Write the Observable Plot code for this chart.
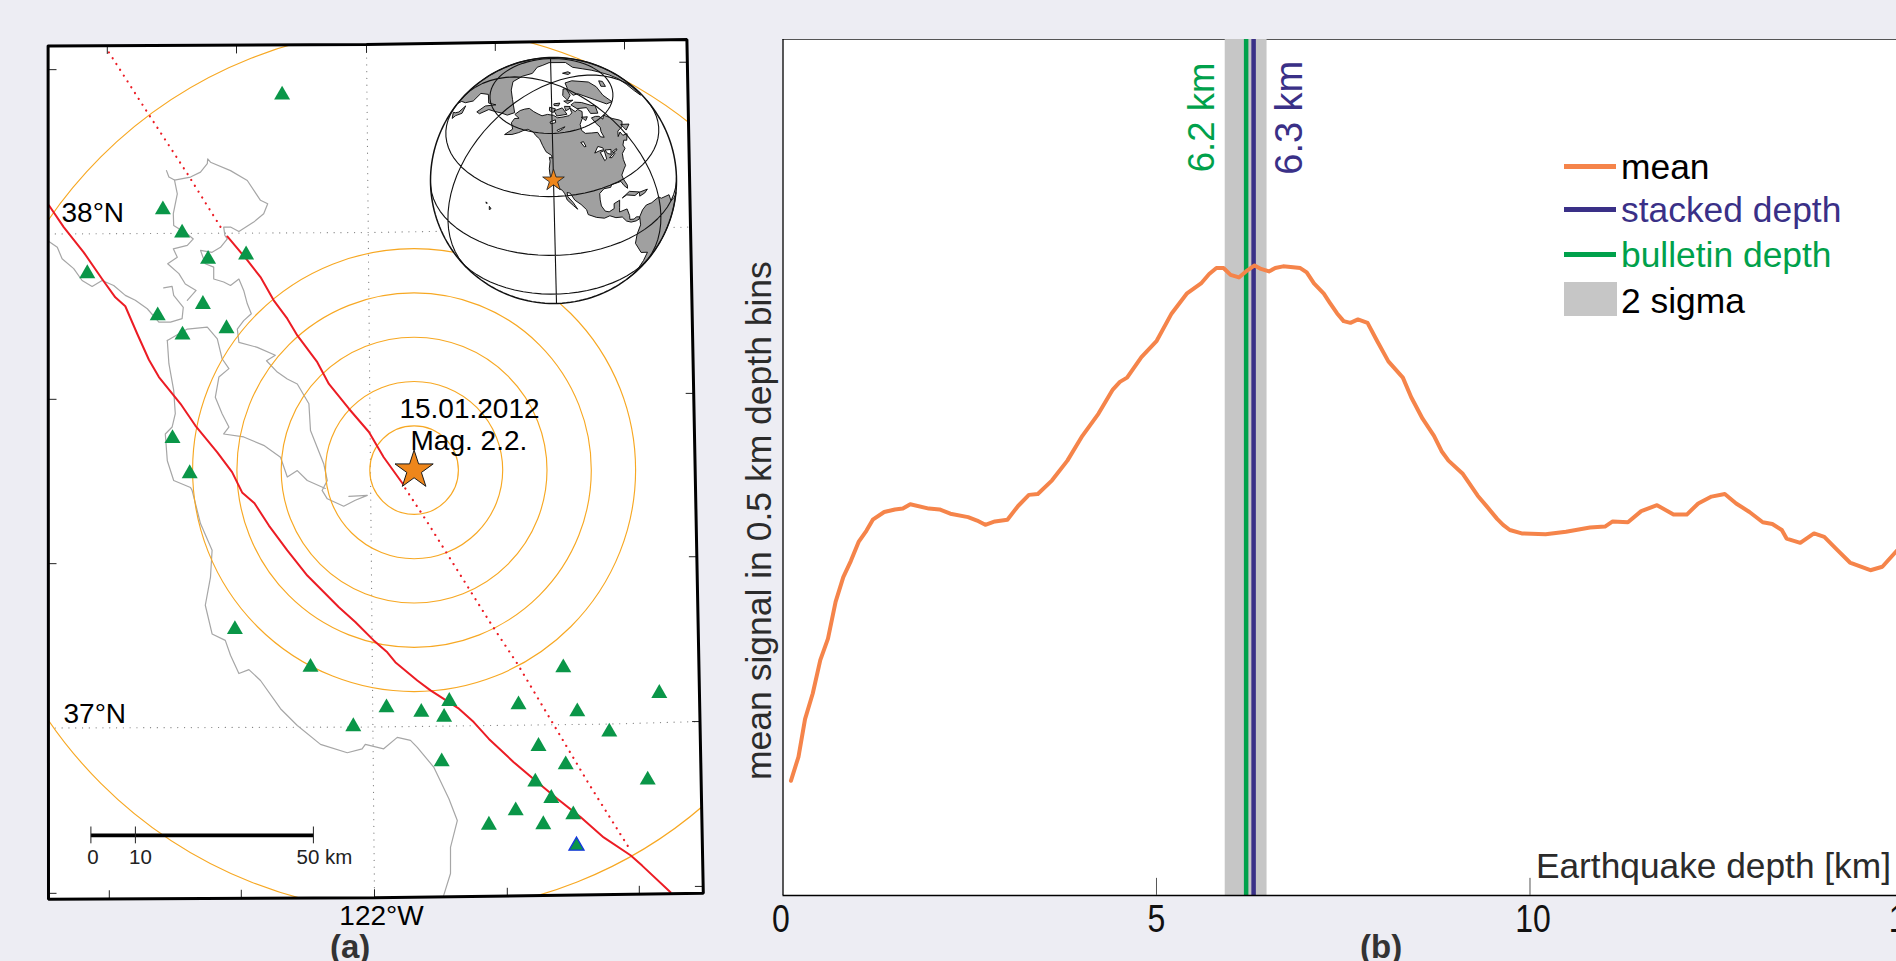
<!DOCTYPE html>
<html><head><meta charset="utf-8">
<script src="https://cdn.jsdelivr.net/npm/d3@7"></script>
<script src="https://cdn.jsdelivr.net/npm/@observablehq/plot@0.6"></script>
<style>
html,body{margin:0;padding:0;background:#edEDf3;width:1896px;height:961px;overflow:hidden;font-family:"Liberation Sans",Arial,sans-serif}
#stage{position:relative;width:1896px;height:961px;overflow:hidden}
#stage>svg,#stage>figure{position:absolute;margin:0}
.lab{position:absolute;line-height:40px;white-space:nowrap}
.swatch{position:absolute}
</style></head><body><div id="stage"></div>
<script>
// ---------- panel (a): stations, faults, coast (lon, lat) ----------
const stations = [[-122.221,38.278],[-122.519,38.046],[-122.471,37.999],[-122.406,37.946],[-122.311,37.955],[-122.708,37.917],[-122.532,37.832],[-122.419,37.855],[-122.360,37.806],[-122.470,37.793],[-122.495,37.584],[-122.452,37.513],[-122.339,37.198],[-122.150,37.122],[-122.043,37.002],[-121.960,37.040],[-121.873,37.031],[-121.816,37.021],[-121.803,37.053],[-121.822,36.931],[-121.630,37.046],[-121.518,37.121],[-121.483,37.032],[-121.278,37.069],[-121.403,36.991],[-121.580,36.962],[-121.512,36.925],[-121.588,36.890],[-121.548,36.857],[-121.307,36.894],[-121.637,36.832],[-121.493,36.824],[-121.704,36.803],[-121.568,36.804]];
const referenceStation = [[-121.485,36.761]];
const epicentre = [[-121.891,37.52]];
const ringKm = [10,20,30,40,50,100];
const faultWest = [[-122.804,38.055],[-122.767,38.011],[-122.717,37.960],[-122.671,37.906],[-122.638,37.869],[-122.613,37.851],[-122.583,37.795],[-122.554,37.743],[-122.529,37.708],[-122.475,37.654],[-122.438,37.610],[-122.383,37.556],[-122.346,37.516],[-122.321,37.475],[-122.290,37.453],[-122.254,37.408],[-122.208,37.358],[-122.158,37.307],[-122.079,37.243],[-122.038,37.213],[-121.992,37.176],[-121.958,37.152],[-121.938,37.132],[-121.883,37.095],[-121.850,37.075],[-121.779,37.038],[-121.742,37.011],[-121.704,36.977],[-121.642,36.930],[-121.588,36.893],[-121.533,36.856],[-121.475,36.819],[-121.417,36.778],[-121.350,36.742],[-121.321,36.721],[-121.250,36.667]];
const faultEast = [[-122.358,37.992],[-122.311,37.947],[-122.275,37.910],[-122.242,37.863],[-122.208,37.826],[-122.183,37.792],[-122.133,37.738],[-122.104,37.694],[-122.054,37.644],[-122.004,37.597],[-121.967,37.546],[-121.918,37.491]];
const faultDottedNorth = [[-122.654,38.364],[-122.558,38.243],[-122.458,38.119],[-122.367,38.001]];
const faultDottedSouth = [[-121.913,37.483],[-121.858,37.415],[-121.704,37.216],[-121.633,37.129],[-121.546,37.011],[-121.454,36.886],[-121.350,36.752]];
const coastA = [[-122.804,37.982],[-122.783,37.970],[-122.771,37.947],[-122.742,37.927],[-122.721,37.903],[-122.696,37.891],[-122.671,37.903],[-122.642,37.893],[-122.613,37.873],[-122.588,37.863],[-122.558,37.846],[-122.529,37.819],[-122.500,37.819],[-122.471,37.826],[-122.468,37.849],[-122.492,37.873],[-122.496,37.891],[-122.517,37.888]];
const coastB = [[-122.510,38.125],[-122.504,38.112],[-122.490,38.106],[-122.483,38.078],[-122.493,38.038],[-122.492,38.014],[-122.458,37.997],[-122.443,37.987],[-122.458,37.974],[-122.493,37.967],[-122.483,37.950],[-122.507,37.937],[-122.479,37.917],[-122.463,37.896],[-122.436,37.883],[-122.458,37.863]];
const coastC = [[-122.490,38.106],[-122.450,38.112],[-122.425,38.122],[-122.408,38.139],[-122.407,38.149],[-122.400,38.142],[-122.350,38.125],[-122.308,38.105],[-122.275,38.065],[-122.257,38.058],[-122.267,38.038],[-122.292,38.021],[-122.329,38.002],[-122.350,38.011],[-122.367,38.011],[-122.364,37.994],[-122.358,37.987],[-122.375,37.970],[-122.396,37.960],[-122.425,37.964],[-122.413,37.937],[-122.392,37.930],[-122.392,37.906],[-122.367,37.900],[-122.350,37.893],[-122.329,37.906],[-122.317,37.883],[-122.308,37.856],[-122.298,37.836],[-122.317,37.822],[-122.333,37.805],[-122.329,37.778],[-122.283,37.768],[-122.238,37.752],[-122.260,37.741],[-122.233,37.718],[-122.208,37.704],[-122.183,37.694],[-122.154,37.654],[-122.150,37.600],[-122.117,37.533],[-122.108,37.499],[-122.121,37.479],[-122.108,37.462],[-122.067,37.447],[-122.038,37.459],[-122.008,37.469],[-122.054,37.467]];
const coastD = [[-122.508,37.782],[-122.458,37.805],[-122.408,37.809],[-122.383,37.785],[-122.371,37.745],[-122.354,37.725],[-122.379,37.708],[-122.388,37.667],[-122.371,37.634],[-122.354,37.607],[-122.367,37.593],[-122.317,37.587],[-122.267,37.570],[-122.225,37.546],[-122.208,37.506],[-122.183,37.519],[-122.158,37.499],[-122.113,37.483]];
const coastE = [[-122.508,37.782],[-122.504,37.735],[-122.492,37.681],[-122.488,37.634],[-122.496,37.607],[-122.513,37.593],[-122.508,37.539],[-122.492,37.499],[-122.450,37.485],[-122.446,37.479],[-122.425,37.412],[-122.396,37.358],[-122.400,37.304],[-122.413,37.247],[-122.396,37.189],[-122.363,37.176],[-122.350,37.146],[-122.329,37.109],[-122.304,37.117],[-122.275,37.095],[-122.225,37.038],[-122.183,37.004],[-122.125,36.966],[-122.058,36.949],[-122.021,36.957],[-122.013,36.966],[-121.967,36.957],[-121.933,36.980],[-121.900,36.974],[-121.883,36.960],[-121.842,36.920],[-121.804,36.856],[-121.783,36.812],[-121.800,36.758],[-121.800,36.705],[-121.817,36.661]];
const mapFrame = [[-122.806,38.377],[-122.010,38.380],[-121.209,38.390],[-121.168,36.665],[-121.990,36.656],[-122.805,36.653],[-122.806,38.377]];
const parallel38 = [[-122.805,37.997],[-122.0,38.0],[-121.2,38.011]];
const parallel37 = [[-122.805,36.999],[-122.0,37.001],[-121.405,37.007],[-121.183,37.012]];
const meridian122 = [[-122.010,38.380],[-121.990,36.656]];
const topTicks = [[-122.658,38.378],[-122.335,38.379],[-122.010,38.380],[-121.688,38.384],[-121.365,38.387]];
const bottomTicks = [[-122.653,36.654],[-122.323,36.655],[-121.990,36.656],[-121.658,36.659],[-121.328,36.663]];
const leftTicks = [[-122.805,38.329],[-122.805,37.663],[-122.805,37.331],[-122.805,36.665]];
const rightTicks = [[-121.208,38.344],[-121.192,37.675],[-121.184,37.345],[-121.176,37.012],[-121.169,36.679]];
const mapLabelsStart = [
  {lon:-122.7725,lat:38.021,text:"38°N"},
  {lon:-122.7675,lat:37.010,text:"37°N"}];
const mapLabelsMiddle = [
  {lon:-121.9725,lat:36.602,text:"122°W"},
  {lon:-121.7525,lat:37.626,text:"15.01.2012"},
  {lon:-121.754,lat:37.560,text:"Mag. 2.2."}];

// ---------- inset globe (rough outlines, lon/lat) ----------
const globeCentre = [-122,37.5];
const gratMeridians = [-122,-62,-2,58,118,178];
const gratParallels = [60,30,0,-30,-60];
const northAmerica = [[-168,65.5],[-166,68.3],[-162,70],[-156.5,71.3],[-148,70.4],[-141,69.7],[-135,69],[-128,70],[-120,69.5],[-115,68],[-108,68],[-100,68],[-95,69],[-94,72],[-90,69],[-85,69.5],[-82,67.5],[-87,64.5],[-93,62],[-94.5,59],[-92.5,57],[-87,56],[-82,55],[-82,52.5],[-79.5,51.5],[-79,54.5],[-77,56.5],[-78,59],[-78,62.5],[-73,62],[-70,61],[-69,58.8],[-65,60],[-61,56],[-57,53],[-56,51.5],[-60,50],[-66,50],[-69,48],[-65,49],[-65,47],[-61,46],[-65,44],[-67,45],[-70,43.5],[-70,41.7],[-74,40.5],[-75.5,38],[-76,35],[-78,34],[-81,32],[-81,30],[-80,26.5],[-80.5,25],[-82,27],[-83,29.5],[-85,29.7],[-89,30],[-90,29],[-94,29.5],[-97,28],[-97.5,25],[-97.5,22],[-96,19],[-94,18],[-91,18.7],[-90.5,21],[-87,21.5],[-88,18],[-88.5,16],[-84,15.8],[-83.3,12],[-83.5,10],[-81,9],[-79.5,9.5],[-77.5,8.5],[-78,7.5],[-80,7.5],[-83,8.3],[-85.5,10],[-87.5,13],[-91,14],[-94,16],[-97,15.7],[-101,17.2],[-105,19.5],[-105.5,22],[-108,25],[-111,27.5],[-113,31],[-114.7,31.5],[-114.5,29.5],[-112,26.5],[-110,23],[-112,25],[-115,28],[-116,31],[-117.2,32.7],[-120.5,34.5],[-122,37],[-124,40],[-124.5,43],[-124,46.5],[-124.5,48.4],[-122.5,48],[-123,49.3],[-127,51],[-130,54],[-133,57],[-137,58.5],[-140,60],[-146,60.8],[-150,59.5],[-153,58],[-158,56],[-164,54.5],[-160,58.5],[-165,61],[-165,63.5],[-161,64.5],[-168,65.5]];
const southAmerica = [[-77.5,8.5],[-75,11],[-72,12],[-68,11],[-62,10.5],[-60,8.5],[-52,5],[-50,0],[-44,-2.5],[-35,-6],[-39,-15],[-41,-22],[-48,-26],[-53,-33],[-58,-35],[-62,-39],[-65,-45],[-68,-53],[-74,-52],[-73,-40],[-71,-30],[-70,-18],[-76,-14],[-81,-5],[-80,0],[-77.5,4],[-77.5,8.5]];
const greenland = [[-55,82],[-30,83.5],[-18,80],[-20,72],[-28,68.5],[-40,65],[-43,60],[-50,62],[-54,68],[-60,76],[-70,77],[-65,81],[-55,82]];
const eurasia = [[5,60],[15,68],[25,71],[40,67],[60,69],[70,72],[80,73],[100,77],[115,74],[130,71],[150,71],[170,70],[180,68.5],[-170,66],[-175,63],[178,62],[170,60],[163,58],[160,53],[156,52],[156,57],[163,62],[155,59],[142,59],[135,54],[140,50],[135,44],[128,39],[125,35],[120,30],[100,25],[60,25],[30,35],[0,40],[-9,38],[-9,43],[0,50],[5,60]];
const islands = [
 [[-80,73.5],[-72,71.5],[-65,67],[-62,66],[-68,62.5],[-75,64.5],[-73,68],[-85,70],[-89,73],[-80,73.5]],
 [[-90,80],[-70,83],[-62,82],[-75,78],[-88,76.5],[-90,80]],
 [[-118,72],[-105,73],[-102,69],[-115,69],[-118,72]],
 [[-125,74],[-116,73],[-120,71],[-125,72],[-125,74]],
 [[-96,76.5],[-80,75],[-92,74.5],[-96,76.5]],
 [[-100,73.5],[-92,72.5],[-95,71.5],[-101,71],[-100,73.5]],
 [[-117,76],[-106,76],[-110,74.5],[-117,75],[-117,76]],
 [[-87,65],[-81,64],[-85,62.8],[-87,65]],
 [[-59,51],[-53,48],[-59,47.5],[-59,51]],
 [[-85,22],[-80,23.2],[-74.2,20.2],[-77.5,19.9],[-82,22.2],[-85,22]],
 [[-74,20],[-68.5,18.7],[-71,18],[-74.5,18.2],[-74,20]],
 [[-24,66],[-14,66],[-14,64],[-22,63.5],[-24,66]],
 [[12,79],[25,80],[20,77],[14,77],[12,79]],
 [[140,45],[145,43],[141,38],[140,35],[133,34],[137,37],[140,40],[140,45]],
 [[-156,20.2],[-155,19.5],[-155.7,18.9],[-156,20.2]],
 [[-158.3,21.7],[-157.6,21.4],[-158.1,21.2],[-158.3,21.7]]];
const lakes = [
 [[-92,46.8],[-88,49],[-85,47.5],[-85,46.5],[-88,46.8],[-92,46.8]],
 [[-88,46],[-85,46],[-86,42],[-87.5,41.7],[-88,46]],
 [[-84,46],[-80,45],[-81.7,43],[-83.5,44],[-84,46]],
 [[-83.5,42],[-79,43],[-78.9,42.5],[-82,41.5],[-83.5,42]],
 [[-79.7,43.8],[-76,44],[-76.2,43.3],[-79.5,43.2],[-79.7,43.8]],
 [[-99,53.5],[-97,53.5],[-96.5,51],[-97.5,51],[-99,53.5]],
 [[-117,61.5],[-109,62.8],[-111,62],[-116,60.8],[-117,61.5]],
 [[-124,66],[-118,67],[-118,65.5],[-123,65],[-124,66]]];

// ---------- panel (b) ----------
const depthKm = [0.106,0.207,0.295,0.398,0.499,0.602,0.704,0.807,0.909,1.012,1.116,1.202,1.355,1.498,1.604,1.704,1.953,2.096,2.240,2.478,2.598,2.708,2.837,3.004,3.147,3.292,3.411,3.602,3.807,4.008,4.224,4.415,4.510,4.606,4.798,5.003,5.203,5.404,5.596,5.705,5.802,5.897,5.992,6.103,6.198,6.313,6.399,6.505,6.590,6.695,6.829,6.925,7.011,7.108,7.240,7.316,7.418,7.505,7.596,7.697,7.825,7.952,8.104,8.298,8.410,8.562,8.715,8.817,8.909,9.096,9.300,9.427,9.560,9.640,9.730,9.889,10.209,10.482,10.803,11.004,11.107,11.311,11.489,11.701,11.921,12.099,12.252,12.430,12.608,12.760,12.938,13.116,13.244,13.371,13.435,13.618,13.802,13.940,14.099,14.283,14.557,14.717,14.913,15.1];
const meanSignal = [0.134,0.162,0.206,0.236,0.275,0.300,0.343,0.372,0.391,0.413,0.426,0.439,0.448,0.451,0.452,0.457,0.452,0.451,0.446,0.442,0.438,0.433,0.437,0.439,0.455,0.468,0.469,0.485,0.508,0.537,0.563,0.591,0.600,0.605,0.629,0.648,0.680,0.703,0.715,0.726,0.733,0.733,0.725,0.722,0.729,0.736,0.732,0.729,0.733,0.735,0.734,0.733,0.728,0.715,0.703,0.693,0.680,0.671,0.669,0.673,0.669,0.648,0.624,0.605,0.582,0.557,0.537,0.519,0.508,0.493,0.467,0.454,0.440,0.433,0.427,0.423,0.422,0.425,0.430,0.431,0.437,0.436,0.449,0.456,0.445,0.445,0.458,0.466,0.469,0.458,0.448,0.436,0.434,0.427,0.417,0.412,0.423,0.419,0.405,0.389,0.380,0.384,0.403,0.42];
const xTicks = [0,5,10,15];
const bulletinDepth = 6.2, stackedDepth = 6.3;
const sigmaBand = [5.92,6.48];

const ORANGE="#F5844A", INDIGO="#3A3087", GREEN="#00A14B", GREY="#C6C6C6", BG="#EDEDF3";
const FONT='"Liberation Sans",Arial,sans-serif';
const stage=document.getElementById("stage");
const lon=d=>d[0], lat=d=>d[1];

// ---------- map ----------
function clipToFrame(index,scales,values,dims,ctx,next){
  const g=next(index,scales,values,dims,ctx);
  const cp=d3.create("svg:clipPath").attr("id","mapClip");
  cp.append("polygon").attr("points",mapFrame.map(p=>scales.x(p[0])+","+scales.y(p[1])).join(" "));
  g.insertBefore(cp.node(),g.firstChild);
  g.setAttribute("clip-path","url(#mapClip)");
  return g;
}
const tickLenLat=0.0172, tickLenLon=0.02;
const degPerKm=0.011125, barLon=-122.699, barLat=36.782, barTick=0.017;
const line=(arr,o)=>Plot.line(arr,{x:lon,y:lat,...o});
const link=(arr,dx,dy)=>Plot.link(arr,{x1:lon,y1:lat,x2:d=>d[0]+dx,y2:d=>d[1]+dy,stroke:"#222",strokeWidth:1});
const coastStyle={stroke:"#A6A6A6",strokeWidth:1.2};
const gridStyle={stroke:"#808080",strokeWidth:1.2,strokeDasharray:"0.1 6.7",strokeLinecap:"round"};
const dottedFault={stroke:"#EC1C24",strokeWidth:2.2,strokeDasharray:"0.1 6.8",strokeLinecap:"round"};
const barX=km=>barLon+km*degPerKm;
const barLabel=(km,t,dx)=>Plot.text([km],{x:barX,y:()=>barLat,text:()=>t,dx,dy:29,lineAnchor:"bottom",fontSize:20.5,fill:"#222"});
const mapPlot=Plot.plot({
  width:760,height:961,margin:0,
  style:{background:"transparent",fontFamily:FONT,overflow:"visible"},
  x:{domain:[-122.925,-121.025],axis:null},
  y:{domain:[36.5273,38.4687],axis:null},
  r:{type:"linear",domain:[0,100],range:[0,443]},
  marks:[
    line(mapFrame,{fill:"white",stroke:"none"}),
    line(parallel38,gridStyle),
    line(parallel37,gridStyle),
    line(meridian122,gridStyle),
    line(coastA,coastStyle),line(coastB,coastStyle),line(coastC,coastStyle),line(coastD,coastStyle),line(coastE,coastStyle),
    Plot.dot(ringKm,{x:()=>epicentre[0][0],y:()=>epicentre[0][1],r:d=>d,stroke:"#F7A823",strokeWidth:1.15,fill:"none",render:clipToFrame}),
    line(faultWest,{stroke:"#EC1C24",strokeWidth:2}),
    line(faultEast,{stroke:"#EC1C24",strokeWidth:2}),
    line(faultDottedNorth,dottedFault),
    line(faultDottedSouth,dottedFault),
    Plot.dot(stations,{x:lon,y:lat,symbol:"triangle",r:5.94,fill:"#0A9648"}),
    Plot.dot(referenceStation,{x:lon,y:lat,symbol:"triangle",r:5.6,fill:"#0A9648",stroke:"#1436E0",strokeWidth:1.3}),
    Plot.dot(epicentre,{x:lon,y:lat,symbol:"star",r:12,fill:"#EE861B",stroke:"#1a1a1a",strokeWidth:1}),
    link(topTicks,0,-tickLenLat),link(bottomTicks,0,tickLenLat),link(leftTicks,tickLenLon,0),link(rightTicks,-tickLenLon,0),
    line(mapFrame,{stroke:"black",strokeWidth:3,strokeLinejoin:"miter"}),
    Plot.text(mapLabelsStart,{x:"lon",y:"lat",text:"text",textAnchor:"start",lineAnchor:"bottom",fontSize:28,fill:"black"}),
    Plot.text(mapLabelsMiddle,{x:"lon",y:"lat",text:"text",textAnchor:"middle",lineAnchor:"bottom",fontSize:28,fill:"black"}),
    Plot.link([[barLon,barLat]],{x1:lon,y1:lat,x2:d=>d[0]+50*degPerKm,y2:lat,stroke:"black",strokeWidth:3.6}),
    Plot.ruleX([0,10,50],{x:barX,y1:barLat-barTick,y2:barLat+barTick,stroke:"#222",strokeWidth:1}),
    barLabel(0,"0",2),barLabel(10,"10",5),barLabel(50,"50 km",11)
  ]
});
mapPlot.style.left="0";mapPlot.style.top="0";
stage.appendChild(mapPlot);

// ---------- globe ----------
const polygon=c=>({type:"Polygon",coordinates:[c]});
const gratLines={type:"MultiLineString",coordinates:[
  ...gratMeridians.map(m=>d3.range(-90,90.1,5).map(la=>[m,la])),
  ...gratParallels.map(p=>d3.range(-180,180.1,5).map(lo=>[lo,p]))]};
const globeSize=270;
const globeProjection=d3.geoOrthographic().rotate([-globeCentre[0],-globeCentre[1],1.4]).scale(123).translate([globeSize/2,globeSize/2]).clipAngle(90).precision(0.3);
const landStyle={fill:"#A0A0A0",stroke:"black",strokeWidth:0.9};
const globePlot=Plot.plot({
  width:globeSize,height:globeSize,margin:0,projection:globeProjection,
  style:{background:"transparent",overflow:"visible"},
  marks:[
    Plot.sphere({fill:"white",stroke:"none"}),
    Plot.geo([polygon(northAmerica),polygon(southAmerica),polygon(greenland),polygon(eurasia),...islands.map(polygon)],landStyle),
    Plot.geo(lakes.map(polygon),{fill:"white",stroke:"black",strokeWidth:0.9}),
    Plot.geo(gratLines,{stroke:"#111",strokeWidth:1.1}),
    Plot.sphere({stroke:"#111",strokeWidth:1.5}),
    Plot.dot([globeCentre],{x:lon,y:lat,symbol:"star",r:6.8,fill:"#EE861B",stroke:"#1a1a1a",strokeWidth:0.8})
  ]
});
globePlot.style.left=(552.5-globeSize/2)+"px";globePlot.style.top=(179.5-globeSize/2)+"px";
stage.appendChild(globePlot);

// ---------- depth panel ----------
const pxPerKm=74.7, left=782.5, svgLeft=720, xMax=15.5;
const narrowTicks=(index,scales,values,dims,ctx,next)=>{const g=next(index,scales,values,dims,ctx);
  g.querySelectorAll("text").forEach(t=>{t.setAttribute("textLength",17.8*t.textContent.length);t.setAttribute("lengthAdjust","spacingAndGlyphs")});return g;};
const tickLabel=(ticks,dx)=>Plot.text(ticks,{x:d=>d,y:()=>0,text:d=>String(d),dy:36.7,dx,lineAnchor:"bottom",fontSize:39,fill:"#111",render:narrowTicks});
const depthPlot=Plot.plot({
  width:(left-svgLeft)+xMax*pxPerKm,height:961,marginLeft:left-svgLeft,marginRight:0,marginTop:39,marginBottom:66,
  style:{background:"transparent",fontFamily:FONT,overflow:"visible"},
  x:{domain:[0,xMax],axis:null},y:{domain:[0,1],axis:null},
  marks:[
    Plot.frame({fill:"white",stroke:"none"}),
    Plot.ruleY([1],{stroke:"#555",strokeWidth:1.2}),
    Plot.rectY([0],{x1:sigmaBand[0],x2:sigmaBand[1],y1:0,y2:1,fill:GREY}),
    Plot.ruleX([bulletinDepth],{stroke:GREEN,strokeWidth:4.5}),
    Plot.ruleX([stackedDepth],{stroke:INDIGO,strokeWidth:4.5}),
    Plot.line(depthKm,{x:depthKm,y:meanSignal,stroke:ORANGE,strokeWidth:4,strokeLinejoin:"round"}),
    Plot.ruleX([0],{stroke:"black",strokeWidth:1.3}),
    Plot.ruleY([0],{stroke:"black",strokeWidth:1.5}),
    Plot.ruleX(xTicks.filter(t=>t>0),{y1:0,y2:0.02,stroke:"#555",strokeWidth:1}),
    tickLabel([xTicks[0]],-2),tickLabel([xTicks[1]],0),tickLabel(xTicks.slice(2),3),
    Plot.text(["6.2 km"],{x:bulletinDepth,y:0.845,text:d=>d,dx:-32,fill:GREEN,rotate:-90,textAnchor:"start",lineAnchor:"bottom",fontSize:36.5}),
    Plot.text(["6.3 km"],{x:stackedDepth,y:0.842,text:d=>d,dx:48,fill:INDIGO,rotate:-90,textAnchor:"start",lineAnchor:"bottom",fontSize:38}),
    Plot.text(["mean signal in 0.5 km depth bins"],{x:0,y:0.438,text:d=>d,dx:-12.5,rotate:-90,textAnchor:"middle",lineAnchor:"bottom",fontSize:35.5,fill:"#2b2b2b"}),
    Plot.text(["Earthquake depth [km]"],{x:10.08,y:0.021,text:d=>d,textAnchor:"start",lineAnchor:"bottom",fontSize:35.3,fill:"#2b2b2b"})
  ]
});
depthPlot.style.left=svgLeft+"px";depthPlot.style.top="0";
stage.appendChild(depthPlot);

// ---------- legend and panel letters ----------
function lab(text,x,top,css){const e=document.createElement("div");e.className="lab";e.textContent=text;e.style.cssText=`left:${x}px;top:${top}px;${css}`;stage.appendChild(e)}
function sw(x,y,w,h,c){const e=document.createElement("div");e.className="swatch";e.style.cssText=`left:${x}px;top:${y}px;width:${w}px;height:${h}px;background:${c}`;stage.appendChild(e)}
const legendRows=[["mean","#000",ORANGE,147,164],["stacked depth",INDIGO,INDIGO,190,207],["bulletin depth",GREEN,GREEN,235,252]];
legendRows.forEach(([t,c,l,top,ly])=>{sw(1564,ly,52,4.5,l);lab(t,1621,top,`font-size:35.4px;color:${c}`)});
sw(1564,282,53,34,GREY);lab("2 sigma",1621,281,"font-size:35.4px;color:#000");
lab("(a)",330,926.6,"font-size:33px;font-weight:bold;color:#333");
lab("(b)",1360,926.6,"font-size:33px;font-weight:bold;color:#333");
</script></body></html>
